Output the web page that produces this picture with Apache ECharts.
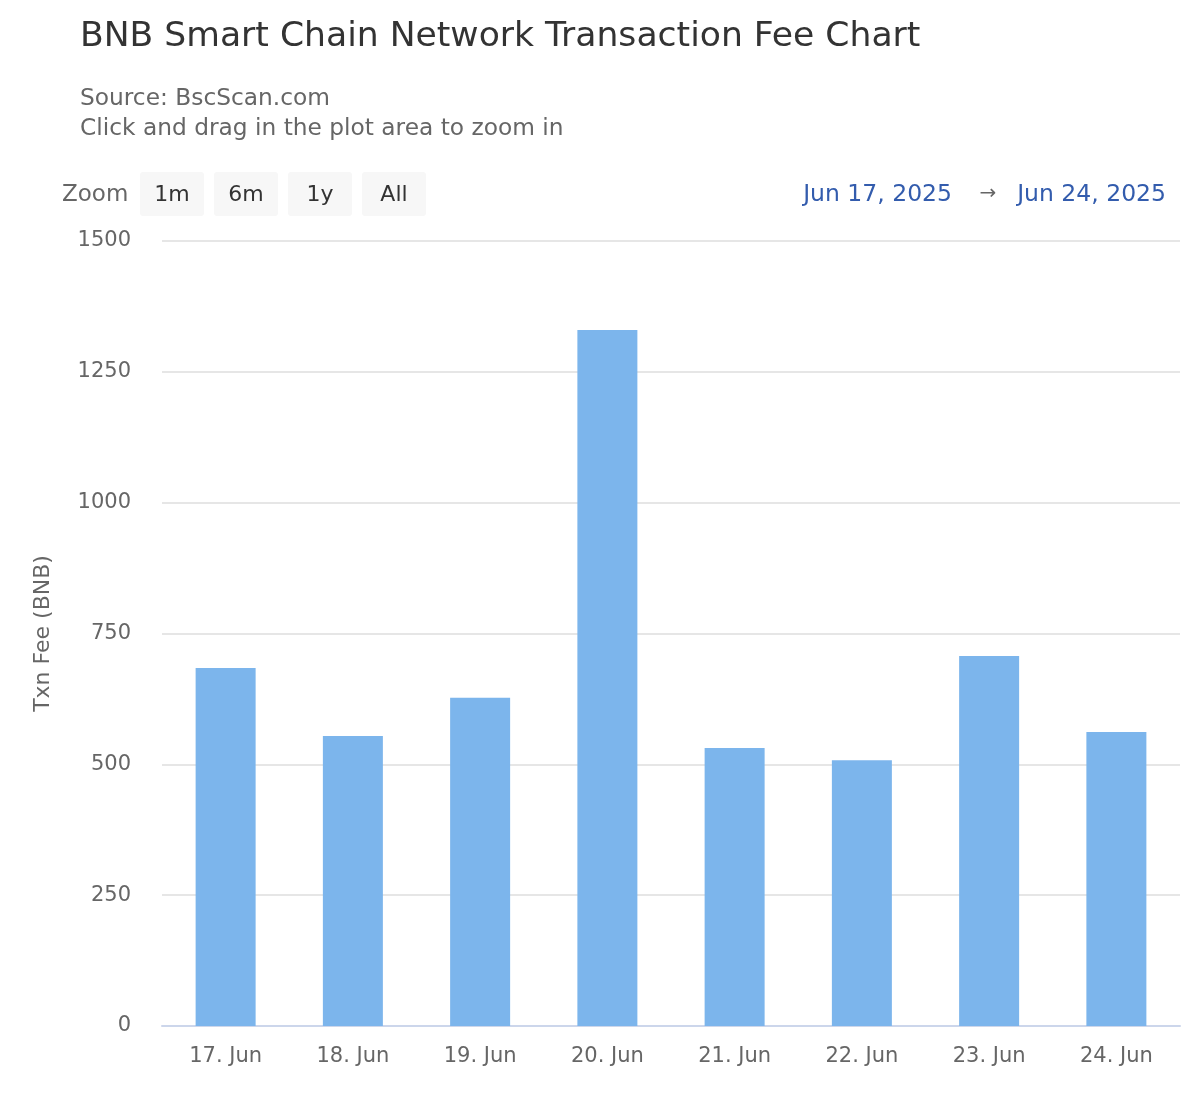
<!DOCTYPE html>
<html>
<head>
<meta charset="utf-8">
<script src="https://cdn.jsdelivr.net/npm/echarts@6/dist/echarts.min.js"></script>
<style>
html,body{margin:0;padding:0;background:#fff;}
#chart{width:1200px;height:1100px;}
</style>
</head>
<body>
<div id="chart"></div>
<script>
const categories = ['17. Jun','18. Jun','19. Jun','20. Jun','21. Jun','22. Jun','23. Jun','24. Jun'];
const txnFee = [684, 554, 627, 1330, 531, 508, 707, 562];
const zoomButtons = ['1m','6m','1y','All'];
const rangeFrom = 'Jun 17, 2025';
const rangeTo = 'Jun 24, 2025';

const FONT = '"DejaVu Sans", Verdana, sans-serif';
const chart = echarts.init(document.getElementById('chart'), null, {renderer:'canvas'});

const graphics = [];
graphics.push({type:'text', x:62, y:195, style:{text:'Zoom', font:'23px '+FONT, fill:'#666', verticalAlign:'middle'}});
zoomButtons.forEach((b,i)=>{
  const x = 140 + i*74;
  graphics.push({type:'rect', shape:{x:x, y:172, width:64, height:44, r:3}, style:{fill:'#f7f7f7'}});
  graphics.push({type:'text', x:x+32, y:195, style:{text:b, font:'22px '+FONT, fill:'#333', align:'center', verticalAlign:'middle'}});
});
graphics.push({type:'text', x:952, y:195, style:{text:rangeFrom, font:'23.5px '+FONT, fill:'#335cad', align:'right', verticalAlign:'middle'}});
graphics.push({type:'text', x:988, y:194, style:{text:'\u2192', font:'20px '+FONT, fill:'#666', align:'center', verticalAlign:'middle'}});
graphics.push({type:'text', x:1166, y:195, style:{text:rangeTo, font:'23.5px '+FONT, fill:'#335cad', align:'right', verticalAlign:'middle'}});

chart.setOption({
  animation:false,
  backgroundColor:'#fff',
  title:[
    {text:'BNB Smart Chain Network Transaction Fee Chart', left:75, top:15, textStyle:{fontFamily:FONT, fontSize:34.6, fontWeight:'normal', color:'#333'}},
    {text:'Source: BscScan.com', left:75, top:82, textStyle:{fontFamily:FONT, fontSize:23.3, fontWeight:'normal', color:'#666'}},
    {text:'Click and drag in the plot area to zoom in', left:75, top:112, textStyle:{fontFamily:FONT, fontSize:23.3, fontWeight:'normal', color:'#666'}}
  ],
  graphic: graphics,
  grid:{left:162, right:20, top:241, bottom:74, containLabel:false},
  xAxis:{
    type:'category',
    data:categories,
    axisLine:{lineStyle:{color:'#ccd6eb', width:2}},
    axisTick:{alignWithLabel:true, length:11, lineStyle:{color:'#ccd6eb', width:2}},
    axisLabel:{fontFamily:FONT, fontSize:21, color:'#666', margin:20}
  },
  yAxis:{
    type:'value',
    min:0, max:1500, interval:250,
    name:'Txn Fee (BNB)',
    nameLocation:'middle',
    nameGap:108,
    nameTextStyle:{fontFamily:FONT, fontSize:22, color:'#666'},
    axisLine:{show:false},
    axisTick:{show:false},
    axisLabel:{fontFamily:FONT, fontSize:21, color:'#666', margin:31, formatter:function(v){return String(v);}},
    splitLine:{lineStyle:{color:'#e6e6e6', width:2}}
  },
  series:[{
    type:'bar',
    data:txnFee,
    barWidth:60,
    itemStyle:{color:'#7cb5ec'}
  }]
});
</script>
</body>
</html>
